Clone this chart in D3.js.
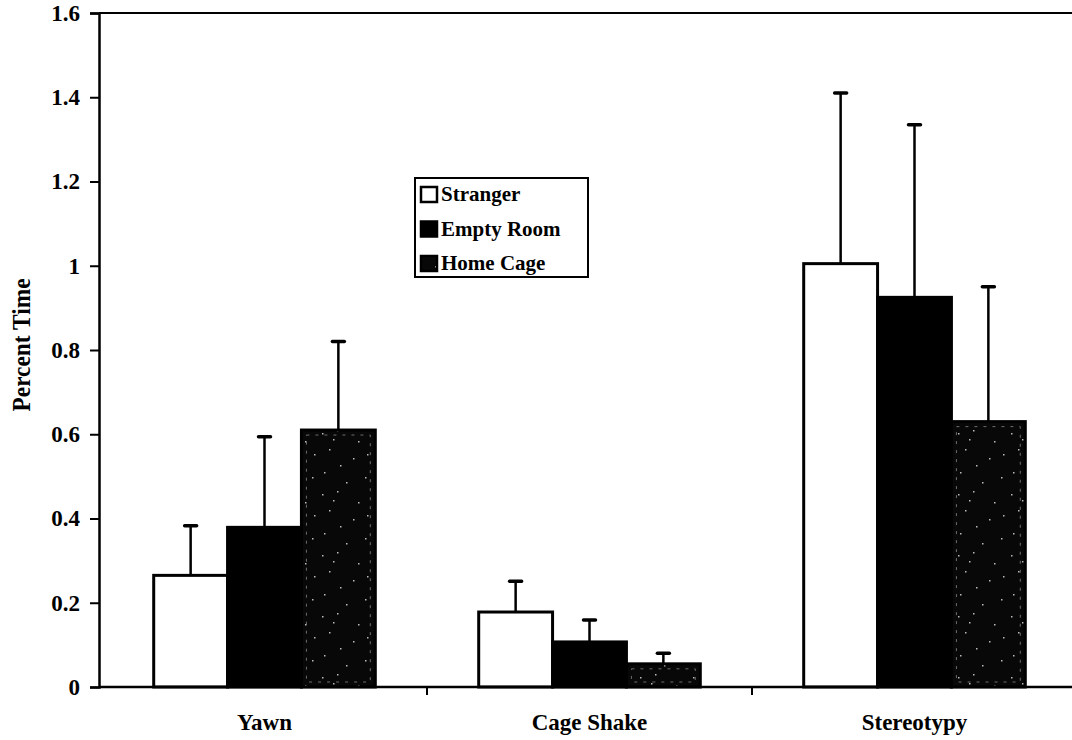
<!DOCTYPE html>
<html><head><meta charset="utf-8">
<script src="https://cdn.jsdelivr.net/npm/d3@7"></script>
<style>body{margin:0;background:#fff}svg{display:block}</style>
</head><body>
<svg id="c" width="1072" height="740"></svg>
<script>
const categories = ["Yawn", "Cage Shake", "Stereotypy"];
const seriesNames = ["Stranger", "Empty Room", "Home Cage"];
const stranger = [0.265, 0.178, 1.005];
const emptyRoom = [0.379, 0.107, 0.925];
const homeCage = [0.610, 0.055, 0.630];
const strangerErr = [0.118, 0.073, 0.405];
const emptyRoomErr = [0.215, 0.052, 0.410];
const homeCageErr = [0.210, 0.025, 0.320];
const yTicks = [0, 0.2, 0.4, 0.6, 0.8, 1, 1.2, 1.4, 1.6];

const values = [stranger, emptyRoom, homeCage];
const errs = [strangerErr, emptyRoomErr, homeCageErr];

(function () {
const svg = d3.select("#c");
const font = "'Liberation Serif', 'Times New Roman', serif";
const pLeft = 99, pTop = 13, pBottom = 687;

const defs = svg.append("defs");
const pat = defs.append("pattern").attr("id", "speck").attr("patternUnits", "userSpaceOnUse")
  .attr("width", 53).attr("height", 61);
pat.append("rect").attr("width", 53).attr("height", 61).attr("fill", "#080808");
[[4,6],[19,3],[40,14],[11,22],[35,31],[6,45],[47,50],[22,38],[28,55],[49,27],[15,12]].forEach(([x,y])=>{
  pat.append("rect").attr("x", x).attr("y", y).attr("width", 1.5).attr("height", 1.5).attr("fill", "#bbb");
});

const x0 = d3.scaleBand().domain(categories).range([102, 1077]).paddingInner(0).paddingOuter(0);
const x1 = d3.scaleBand().domain(seriesNames).range([0, x0.bandwidth()]).paddingInner(0).paddingOuter(0.7);
const y = d3.scaleLinear().domain([0, 1.6]).range([pBottom, pTop]);

const fills = ["#fff", "#000", "url(#speck)"];

categories.forEach((c, ci) => {
  seriesNames.forEach((s, si) => {
    const v = values[si][ci], e = errs[si][ci];
    const bx = x0(c) + x1(s);
    const cx = bx + x1.bandwidth() / 2;
    svg.append("line").attr("x1", cx).attr("x2", cx).attr("y1", y(v)).attr("y2", y(v + e))
      .attr("stroke", "#000").attr("stroke-width", 2.5);
    svg.append("line").attr("x1", cx - 6).attr("x2", cx + 6).attr("y1", y(v + e)).attr("y2", y(v + e))
      .attr("stroke", "#000").attr("stroke-width", 3.5).attr("stroke-linecap", "round");
  });
  seriesNames.forEach((s, si) => {
    const v = values[si][ci];
    const bx = x0(c) + x1(s);
    svg.append("rect").attr("x", bx).attr("y", y(v)).attr("width", x1.bandwidth()).attr("height", y(0) - y(v))
      .attr("fill", fills[si]).attr("stroke", "#000").attr("stroke-width", 3);
    if (si === 2) {
      svg.append("rect").attr("x", bx + 5).attr("y", y(v) + 5).attr("width", x1.bandwidth() - 10)
        .attr("height", Math.max(0, y(0) - y(v) - 10))
        .attr("fill", "none").attr("stroke", "#888").attr("stroke-width", 0.8).attr("stroke-dasharray", "3,6");
    }
  });
});

svg.append("line").attr("x1", pLeft).attr("x2", 1072).attr("y1", pTop).attr("y2", pTop)
  .attr("stroke", "#000").attr("stroke-width", 2);

const yAxis = d3.axisLeft(y).tickValues(yTicks).tickSize(9).tickPadding(10).tickFormat(d => d3.format("")(d));
const yg = svg.append("g").attr("transform", `translate(${pLeft},0)`).call(yAxis);
yg.select(".domain").attr("stroke-width", 2.5);
yg.selectAll(".tick line").attr("stroke-width", 2);
yg.selectAll("text").attr("font-family", font).attr("font-weight", "bold").attr("font-size", 23).attr("fill", "#000");

const xg = svg.append("g").attr("transform", `translate(0,${pBottom})`);
xg.append("line").attr("x1", pLeft).attr("x2", 1072).attr("y1", 0).attr("y2", 0).attr("stroke", "#000").attr("stroke-width", 2.5);
const bounds = categories.map(c => x0(c)).slice(1);
xg.selectAll(".xt").data(bounds).enter().append("line")
  .attr("x1", d => d).attr("x2", d => d).attr("y1", 0).attr("y2", 8).attr("stroke", "#000").attr("stroke-width", 2);
xg.selectAll(".xl").data(categories).enter().append("text")
  .attr("x", d => x0(d) + x0.bandwidth() / 2).attr("y", 43).attr("text-anchor", "middle")
  .attr("font-family", font).attr("font-weight", "bold").attr("font-size", 23).text(d => d);

svg.append("text").attr("transform", "translate(30,345) rotate(-90)").attr("text-anchor", "middle")
  .attr("font-family", font).attr("font-weight", "bold").attr("font-size", 25)
  .attr("textLength", 133).attr("lengthAdjust", "spacingAndGlyphs").text("Percent Time");

const lg = svg.append("g");
lg.append("rect").attr("x", 415).attr("y", 178).attr("width", 173).attr("height", 99)
  .attr("fill", "#fff").attr("stroke", "#000").attr("stroke-width", 2);
seriesNames.forEach((s, i) => {
  const base = 201 + i * 34.5;
  lg.append("rect").attr("x", 421).attr("y", base - 14).attr("width", 16).attr("height", 15)
    .attr("fill", fills[i]).attr("stroke", "#000").attr("stroke-width", 2.5);
  lg.append("text").attr("x", 441).attr("y", base).attr("font-family", font).attr("font-weight", "bold")
    .attr("font-size", 21).text(s);
});
})();
</script>
</body></html>
